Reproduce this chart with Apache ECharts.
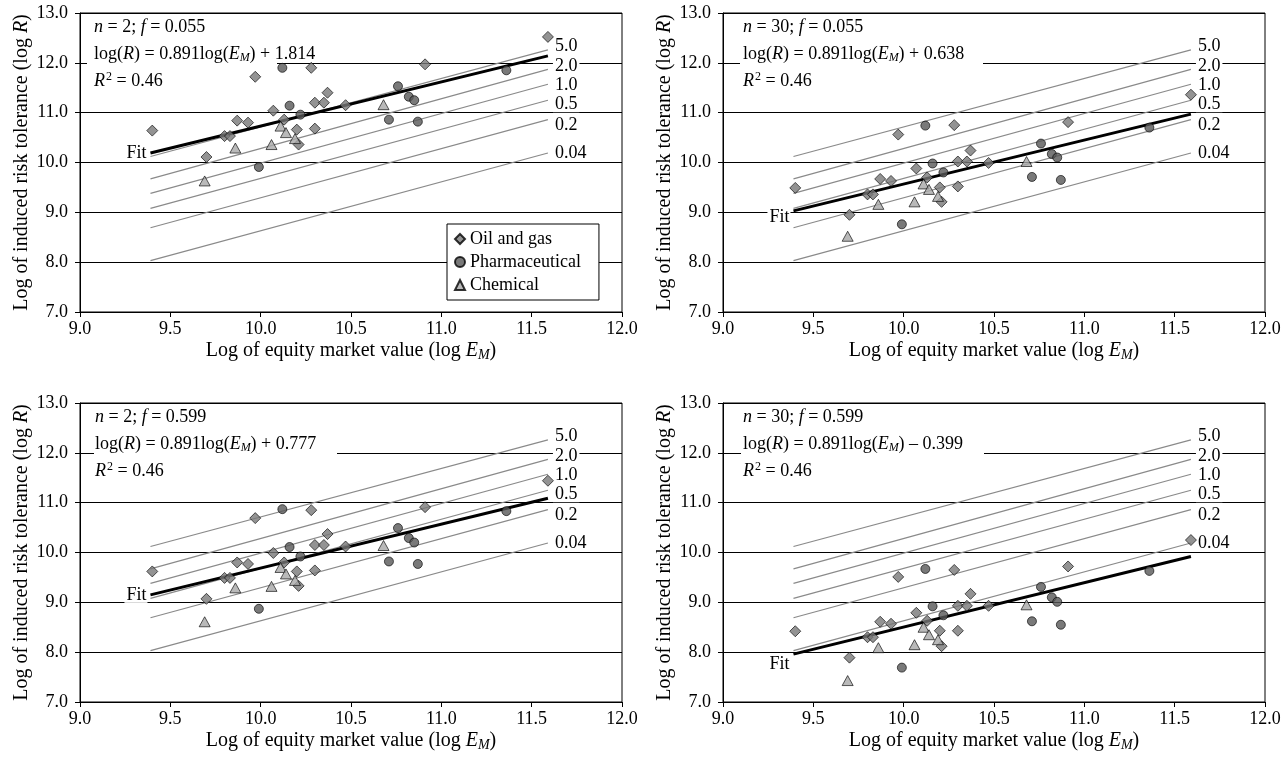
<!DOCTYPE html>
<html>
<head>
<meta charset="utf-8">
<title>Induced risk tolerance vs equity market value</title>
<script src="https://cdn.jsdelivr.net/npm/echarts@6/dist/echarts.min.js"></script>
<style>
    * { margin: 0; padding: 0; }
    html, body { background: #fff; }
    #main { width: 1285px; height: 764px; }
</style>
</head>
<body>
<div id="main"></div>
<script>
// log of equity market value, same companies in every panel
var oilX    = [9.40, 9.70, 9.80, 9.83, 9.87, 9.93, 9.97, 10.07, 10.13, 10.20, 10.21, 10.28, 10.30, 10.30, 10.35, 10.37, 10.47, 10.91, 11.59];
var pharmaX = [9.99, 10.12, 10.16, 10.22, 10.71, 10.76, 10.82, 10.85, 10.87, 11.36];
var chemX   = [9.69, 9.86, 10.06, 10.11, 10.14, 10.19, 10.68];

// log of induced risk tolerance, one array per panel (TL, TR, BL, BR)
var oilTL = [10.64, 10.11, 10.53, 10.53, 10.84, 10.80, 11.72, 11.04, 10.86, 10.66, 10.36, 11.90, 11.20, 10.68, 11.20, 11.40, 11.15, 11.97, 12.52];
var oilTR = [9.49, 8.95, 9.36, 9.36, 9.67, 9.63, 10.56, 9.88, 9.70, 9.50, 9.21, 10.75, 10.02, 9.52, 10.02, 10.24, 9.99, 10.81, 11.36];
var oilBL = [9.62, 9.07, 9.49, 9.49, 9.80, 9.77, 10.69, 9.99, 9.80, 9.62, 9.33, 10.85, 10.15, 9.64, 10.15, 10.37, 10.12, 10.91, 11.44];
var oilBR = [8.42, 7.89, 8.30, 8.30, 8.61, 8.57, 9.51, 8.79, 8.63, 8.43, 8.12, 9.65, 8.93, 8.43, 8.93, 9.17, 8.93, 9.72, 10.25];

var pharmaTL = [9.91, 11.90, 11.14, 10.96, 10.86, 11.53, 11.32, 11.25, 10.82, 11.85];
var pharmaTR = [8.76, 10.74, 9.98, 9.80, 9.71, 10.38, 10.17, 10.10, 9.65, 10.70];
var pharmaBL = [8.87, 10.87, 10.11, 9.92, 9.82, 10.49, 10.29, 10.20, 9.77, 10.83];
var pharmaBR = [7.69, 9.67, 8.92, 8.74, 8.62, 9.31, 9.10, 9.01, 8.55, 9.63];

var chemTL = [9.63, 10.29, 10.36, 10.73, 10.60, 10.48, 11.16];
var chemTR = [8.52, 9.16, 9.21, 9.57, 9.46, 9.32, 10.02];
var chemBL = [8.61, 9.29, 9.32, 9.70, 9.57, 9.44, 10.14];
var chemBR = [7.43, 8.09, 8.15, 8.50, 8.35, 8.25, 8.95];

// fitted line end points
var fitX     = [9.39, 11.59];
var fitStart = [10.19, 9.03, 9.15, 7.96];
var fitEnd   = [12.14, 10.97, 11.09, 9.92];

// reference lines, same in every panel
var refLabels = ['5.0', '2.0', '1.0', '0.5', '0.2', '0.04'];
var refStart  = [10.12, 9.67, 9.38, 9.08, 8.69, 8.03];
var refEnd    = [12.26, 11.87, 11.57, 11.25, 10.86, 10.19];

// panel annotations
var nValues    = ['2', '30', '2', '30'];
var fValues    = ['0.055', '0.055', '0.599', '0.599'];
var intercepts = ['+ 1.814', '+ 0.638', '+ 0.777', '\u2013 0.399'];
var r2Value    = '0.46';

var xTickLabels = ['9.0', '9.5', '10.0', '10.5', '11.0', '11.5', '12.0'];
var yTickLabels = ['7.0', '8.0', '9.0', '10.0', '11.0', '12.0', '13.0'];
var industries  = ['Oil and gas', 'Pharmaceutical', 'Chemical'];

var FONT = "'Liberation Serif', 'Times New Roman', Times, serif";
var panels = [
    { left: 80,  top: 13,  oil: oilTL, pharma: pharmaTL, chem: chemTL },
    { left: 723, top: 13,  oil: oilTR, pharma: pharmaTR, chem: chemTR },
    { left: 80,  top: 403, oil: oilBL, pharma: pharmaBL, chem: chemBL },
    { left: 723, top: 403, oil: oilBR, pharma: pharmaBR, chem: chemBR }
];
var GW = 542, GH = 299;
var textDx = [14, 20, 15, 20];
var boxDx  = [7, 17, 14, 18];
var boxW   = [190, 243, 243, 243];
var fitLabelDy = [0, 6, 0, 10];
var refLabelDy = [-4, -3, 1, 4, 6, 0];

var rich = {
    i:   { fontFamily: FONT, fontSize: 18, fontStyle: 'italic', fill: '#000', color: '#000' },
    sub: { fontFamily: FONT, fontSize: 12, fontStyle: 'italic', padding: [8, 0, 0, 0], fill: '#000', color: '#000' },
    sup: { fontFamily: FONT, fontSize: 12, padding: [0, 0, 8, 1], fill: '#000', color: '#000' }
};

function pairs(xs, ys) {
    return xs.map(function (x, i) { return [x, ys[i]]; });
}

var grid = [], xAxis = [], yAxis = [], series = [], graphic = [];

panels.forEach(function (p, k) {
    grid.push({ left: p.left, top: p.top, width: GW, height: GH, show: true,
        borderColor: '#000', borderWidth: 1, backgroundColor: 'transparent' });
    xAxis.push({
        gridIndex: k, type: 'value', min: 9, max: 12, interval: 0.5,
        name: 'Log of equity market value (log {i|E}{sub|M})',
        nameLocation: 'middle', nameGap: 27,
        nameTextStyle: { fontFamily: FONT, fontSize: 20, color: '#000',
            rich: { i: { fontFamily: FONT, fontSize: 20, fontStyle: 'italic', color: '#000' },
                    sub: { fontFamily: FONT, fontSize: 14, fontStyle: 'italic', color: '#000', padding: [9, 0, 0, 0] } } },
        axisLine: { lineStyle: { color: '#000', width: 1 } },
        axisTick: { length: 5, lineStyle: { color: '#000' } },
        axisLabel: { fontFamily: FONT, fontSize: 18, color: '#000', margin: 8,
            formatter: function (v, i) { return xTickLabels[i]; } },
        splitLine: { show: false }
    });
    yAxis.push({
        gridIndex: k, type: 'value', min: 7, max: 13, interval: 1,
        name: 'Log of induced risk tolerance (log {i|R})',
        nameLocation: 'middle', nameGap: 48, nameRotate: 90,
        nameTextStyle: { fontFamily: FONT, fontSize: 20, color: '#000',
            rich: { i: { fontFamily: FONT, fontSize: 20, fontStyle: 'italic', color: '#000' } } },
        axisLine: { lineStyle: { color: '#000', width: 1 } },
        axisTick: { length: 5, lineStyle: { color: '#000' } },
        axisLabel: { fontFamily: FONT, fontSize: 18, color: '#000', margin: 12,
            formatter: function (v, i) { return yTickLabels[i]; } },
        splitLine: { show: true, lineStyle: { color: '#000', width: 1 } }
    });

    // reference lines
    refLabels.forEach(function (lab, j) {
        series.push({
            type: 'line', xAxisIndex: k, yAxisIndex: k, silent: true, z: 2,
            symbol: 'circle', symbolSize: 0.01,
            lineStyle: { color: '#8a8a8a', width: 1.2 },
            data: [[fitX[0], refStart[j]], {
                value: [fitX[1], refEnd[j]],
                label: { show: true, position: 'right', distance: 5, formatter: lab,
                    offset: [0, refLabelDy[j]],
                    fontFamily: FONT, fontSize: 18, color: '#000', lineHeight: 16,
                    backgroundColor: '#fff', padding: [0, 2, 0, 2] }
            }]
        });
    });

    // fitted line
    series.push({
        type: 'line', xAxisIndex: k, yAxisIndex: k, silent: true, z: 3,
        symbol: 'circle', symbolSize: 0.01,
        lineStyle: { color: '#000', width: 3 },
        data: [{
            value: [fitX[0], fitStart[k]],
            label: { show: true, position: 'left', distance: 3, formatter: 'Fit',
                offset: [0, fitLabelDy[k]],
                fontFamily: FONT, fontSize: 18, color: '#000', lineHeight: 16,
                backgroundColor: '#fff', padding: [0, 1, 0, 2] }
        }, [fitX[1], fitEnd[k]]]
    });

    // companies
    series.push({
        name: industries[0], type: 'scatter', xAxisIndex: k, yAxisIndex: k, z: 5,
        symbol: 'diamond', symbolSize: [11, 11],
        itemStyle: { color: '#787878', borderColor: '#000', borderWidth: 0.8 },
        data: pairs(oilX, p.oil)
    });
    series.push({
        name: industries[1], type: 'scatter', xAxisIndex: k, yAxisIndex: k, z: 5,
        symbol: 'circle', symbolSize: 9,
        itemStyle: { color: '#585858', borderColor: '#000', borderWidth: 0.8 },
        data: pairs(pharmaX, p.pharma)
    });
    series.push({
        name: industries[2], type: 'scatter', xAxisIndex: k, yAxisIndex: k, z: 5,
        symbol: 'triangle', symbolSize: [11, 10],
        itemStyle: { color: '#a8a8a8', borderColor: '#000', borderWidth: 0.8 },
        data: pairs(chemX, p.chem)
    });

    // annotation block
    var tx = p.left + textDx[k];
    graphic.push({ type: 'rect', z: 100, silent: true,
        shape: { x: p.left + boxDx[k], y: p.top + 29, width: boxW[k], height: 23 },
        style: { fill: '#fff' } });
    graphic.push({ type: 'text', z: 101, silent: true, x: tx, y: p.top + 14,
        style: { text: '{i|n} = ' + nValues[k] + '; {i|f} = ' + fValues[k],
            font: '18px ' + FONT, fill: '#000', verticalAlign: 'middle', rich: rich } });
    graphic.push({ type: 'text', z: 101, silent: true, x: tx, y: p.top + 41,
        style: { text: 'log({i|R}) = 0.891log({i|E}{sub|M}) ' + intercepts[k],
            font: '18px ' + FONT, fill: '#000', verticalAlign: 'middle', rich: rich } });
    graphic.push({ type: 'text', z: 101, silent: true, x: tx, y: p.top + 68,
        style: { text: '{i|R}{sup|2} = ' + r2Value,
            font: '18px ' + FONT, fill: '#000', verticalAlign: 'middle', rich: rich } });
});

var chart = echarts.init(document.getElementById('main'));
chart.setOption({
    animation: false,
    backgroundColor: '#fff',
    textStyle: { fontFamily: FONT },
    legend: {
        data: industries, orient: 'vertical', left: 447, top: 224,
        backgroundColor: '#fff', borderColor: '#000', borderWidth: 1,
        padding: [6, 18, 6, 7], itemGap: 5, itemWidth: 10, itemHeight: 10,
        textStyle: { fontFamily: FONT, fontSize: 18, color: '#000', lineHeight: 17 },
        selectedMode: false, z: 20
    },
    grid: grid,
    xAxis: xAxis,
    yAxis: yAxis,
    series: series,
    graphic: graphic
});
</script>
</body>
</html>
